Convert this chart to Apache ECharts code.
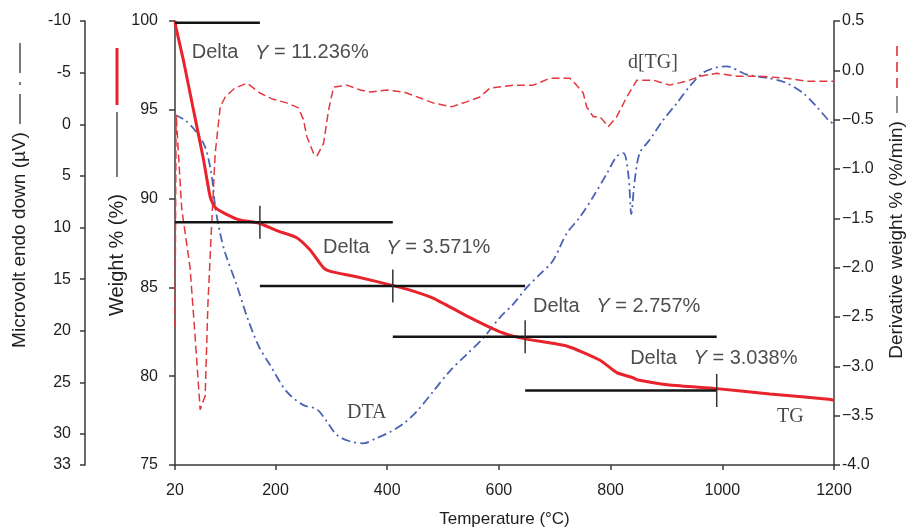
<!DOCTYPE html>
<html>
<head>
<meta charset="utf-8">
<title>TG / DTG / DTA</title>
<script src="https://cdn.jsdelivr.net/npm/echarts@6/dist/echarts.min.js"></script>
<style>
  html, body { margin: 0; padding: 0; background: #fff; }
  #chart { width: 907px; height: 529px; }
</style>
</head>
<body>
<div id="chart"></div>
<script>
// x axis
const temperatureTicks = [20, 200, 400, 600, 800, 1000, 1200];
const microvoltTicks = [-10, -5, 0, 5, 10, 15, 20, 25, 30, 33];

// TG, weight %
const tgTemp   = [20, 22, 35, 53, 71, 83, 92, 113, 136, 172, 202, 238, 262, 286, 298, 345, 411, 441, 482, 542, 602, 647, 721, 781, 811, 841, 847, 906, 990, 1085, 1190, 1200];
const tgWeight = [100, 99.6, 97.8, 95.0, 92.2, 90.1, 89.5, 89.1, 88.8, 88.6, 88.2, 87.8, 87.1, 86.1, 85.9, 85.6, 85.1, 84.85, 84.4, 83.4, 82.5, 82.1, 81.7, 80.9, 80.2, 79.9, 79.8, 79.5, 79.3, 79.0, 78.7, 78.65];

// d[TG], %/min
const dtgTemp = [20, 22, 32, 47, 56, 65, 74, 79, 86, 92, 101, 110, 127, 149, 172, 194, 220, 241, 250, 256, 268, 274, 286, 295, 304, 328, 352, 370, 400, 430, 459, 482, 515, 542, 566, 584, 626, 662, 691, 727, 739, 751, 757, 769, 781, 796, 811, 829, 847, 877, 906, 936, 960, 990, 1026, 1067, 1115, 1151, 1200];
const dtgRate = [-2.6, -0.45, -1.4, -2.0, -2.7, -3.44, -3.3, -2.36, -1.52, -0.84, -0.37, -0.27, -0.18, -0.13, -0.23, -0.29, -0.33, -0.38, -0.50, -0.67, -0.84, -0.87, -0.74, -0.40, -0.17, -0.15, -0.20, -0.22, -0.20, -0.22, -0.28, -0.33, -0.37, -0.32, -0.27, -0.18, -0.15, -0.15, -0.08, -0.08, -0.15, -0.23, -0.37, -0.47, -0.47, -0.57, -0.47, -0.27, -0.10, -0.10, -0.15, -0.11, -0.06, -0.03, -0.06, -0.06, -0.08, -0.11, -0.11];

// DTA, microvolt (endo down)
const dtaTemp   = [20, 38, 56, 74, 86, 92, 101, 110, 130, 150, 170, 190, 220, 250, 274, 292, 310, 333, 357, 381, 405, 429, 453, 482, 512, 542, 572, 602, 626, 650, 674, 697, 721, 745, 769, 793, 811, 823, 832, 837, 843, 852, 870, 894, 918, 942, 966, 990, 1008, 1044, 1080, 1115, 1145, 1169, 1190, 1200];
const dtaSignal = [-0.9, -0.4, 0.6, 2.2, 5.1, 8.0, 10.6, 12.5, 15.5, 18.8, 21.5, 23.3, 25.9, 27.2, 27.6, 28.8, 30.1, 30.7, 30.9, 30.4, 29.8, 29.0, 27.8, 25.9, 23.9, 22.3, 20.7, 18.7, 17.4, 15.8, 14.5, 13.2, 10.6, 9.0, 7.0, 4.8, 3.1, 2.8, 5.0, 8.7, 5.5, 2.8, 1.5, -0.4, -2.0, -3.7, -5.0, -5.5, -5.6, -4.8, -4.5, -4.0, -3.0, -1.7, -0.4, 0.0];

// weight-loss steps
const stepFrom  = [20, 20, 172, 410, 647];
const stepTo    = [172, 410, 647, 990, 990];
const stepLevel = [99.9, 88.67, 85.08, 82.22, 79.2];
const stepMarkAt = [172, 410, 647, 990];
const stepMarkLevel = [88.67, 85.08, 82.22, 79.2];
const deltaY = ['11.236', '3.571', '2.757', '3.038'];

const zip = (a, b) => a.map((v, i) => [v, b[i]]);

const SANS = '"Liberation Sans", Arial, sans-serif';
const SERIF = '"Liberation Serif", "Times New Roman", serif';
const AXIS_COLOR = '#3a3a3a';
const TEXT_COLOR = '#1e1e1e';

// where the annotation texts sit (left edge, vertical middle), in T / weight units
const deltaAnchor = [[50, 98.2], [285, 87.22], [661, 83.9], [835, 81.0]];
const curveNames = [
  { name: 'd[TG]', value: [831, 97.64] },
  { name: 'DTA', value: [328, 77.93] },
  { name: 'TG', value: [1098, 77.7] }
];

const chart = echarts.init(document.getElementById('chart'));

const stepLines = stepLevel.map((lvl, i) => ({
  type: 'line',
  yAxisIndex: 0,
  data: [[stepFrom[i], lvl], [stepTo[i], lvl]],
  symbol: 'none',
  silent: true,
  lineStyle: { color: '#141414', width: 2.5 },
  z: 6
}));

const stepMarks = stepMarkAt.map((t, i) => ({
  type: 'line',
  yAxisIndex: 0,
  data: [[t, stepMarkLevel[i] + 0.93], [t, stepMarkLevel[i] - 0.93]],
  symbol: 'none',
  silent: true,
  lineStyle: { color: '#333', width: 1.5 },
  z: 6
}));

const option = {
  animation: false,
  grid: { left: 175, right: 73, top: 21, bottom: 64, containLabel: false, outerBoundsMode: 'none' },
  xAxis: {
    type: 'value',
    min: 20,
    max: 1200,
    name: 'Temperature (°C)',
    nameLocation: 'middle',
    nameGap: 46,
    nameTextStyle: { fontSize: 17, fontFamily: SANS, color: TEXT_COLOR },
    axisLine: { onZero: false, lineStyle: { color: AXIS_COLOR, width: 1.5 } },
    axisTick: { customValues: temperatureTicks, length: 5, lineStyle: { color: AXIS_COLOR, width: 1.5 } },
    axisLabel: { customValues: temperatureTicks, formatter: v => String(v), fontSize: 16, fontFamily: SANS, color: TEXT_COLOR, margin: 18 },
    splitLine: { show: false }
  },
  yAxis: [
    {
      type: 'value',
      min: 75,
      max: 100,
      interval: 5,
      position: 'left',
      axisLine: { show: true, onZero: false, lineStyle: { color: AXIS_COLOR, width: 1.5 } },
      axisTick: { show: true, length: 6, lineStyle: { color: AXIS_COLOR, width: 1.5 } },
      axisLabel: { fontSize: 16, fontFamily: SANS, color: TEXT_COLOR, margin: 17 },
      splitLine: { show: false }
    },
    {
      type: 'value',
      min: -10,
      max: 33,
      inverse: true,
      position: 'left',
      offset: 90,
      axisLine: { show: true, onZero: false, lineStyle: { color: AXIS_COLOR, width: 1.5 } },
      axisTick: { show: true, customValues: microvoltTicks, length: 5, lineStyle: { color: AXIS_COLOR, width: 1.5 } },
      axisLabel: { customValues: microvoltTicks, fontSize: 16, fontFamily: SANS, color: TEXT_COLOR, margin: 14 },
      splitLine: { show: false }
    },
    {
      type: 'value',
      min: -4,
      max: 0.5,
      interval: 0.5,
      position: 'right',
      axisLine: { show: true, onZero: false, lineStyle: { color: AXIS_COLOR, width: 1.5 } },
      axisTick: { show: true, length: 6, lineStyle: { color: AXIS_COLOR, width: 1.5 } },
      axisLabel: {
        fontSize: 16, fontFamily: SANS, color: TEXT_COLOR, margin: 8,
        formatter: v => (v < 0 && v > -4 ? '\u2212' + Math.abs(v).toFixed(1) : v.toFixed(1))
      },
      splitLine: { show: false }
    }
  ],
  graphic: [
    // left outer title + dash-dot key
    {
      type: 'text', x: 20, y: 240, rotation: Math.PI / 2,
      style: { text: 'Microvolt endo down (µV)', font: '19px ' + SANS, fill: TEXT_COLOR,
               align: 'center', verticalAlign: 'middle', textAlign: 'center', textVerticalAlign: 'middle' }
    },
    {
      type: 'line', shape: { x1: 20, y1: 124, x2: 20, y2: 36 },
      style: { stroke: '#333', lineWidth: 1.3, lineDash: [30, 9, 3, 9] }
    },
    // weight title + keys
    {
      type: 'text', x: 117, y: 255, rotation: Math.PI / 2,
      style: { text: 'Weight % (%)', font: '20px ' + SANS, fill: TEXT_COLOR,
               align: 'center', verticalAlign: 'middle', textAlign: 'center', textVerticalAlign: 'middle' }
    },
    {
      type: 'line', shape: { x1: 117, y1: 177, x2: 117, y2: 112 },
      style: { stroke: '#333', lineWidth: 1.3 }
    },
    {
      type: 'line', shape: { x1: 117, y1: 105, x2: 117, y2: 48 },
      style: { stroke: '#e8232b', lineWidth: 3 }
    },
    // right title + keys
    {
      type: 'text', x: 897, y: 240, rotation: Math.PI / 2,
      style: { text: 'Derivative weight % (%/min)', font: '19px ' + SANS, fill: TEXT_COLOR,
               align: 'center', verticalAlign: 'middle', textAlign: 'center', textVerticalAlign: 'middle' }
    },
    {
      type: 'line', shape: { x1: 897, y1: 113, x2: 897, y2: 96 },
      style: { stroke: '#555', lineWidth: 1.3 }
    },
    {
      type: 'line', shape: { x1: 897, y1: 88, x2: 897, y2: 46 },
      style: { stroke: '#e05a5e', lineWidth: 2, lineDash: [10, 6] }
    }
  ],
  series: [
    {
      name: 'DTA',
      type: 'line',
      yAxisIndex: 1,
      data: zip(dtaTemp, dtaSignal),
      symbol: 'none',
      smooth: 0.3,
      lineStyle: { color: '#4b62b5', width: 1.8, type: [9, 4, 2, 4] },
      z: 2
    },
    {
      name: 'd[TG]',
      type: 'line',
      yAxisIndex: 2,
      data: zip(dtgTemp, dtgRate),
      symbol: 'none',
      lineStyle: { color: '#e2383d', width: 1.5, type: [8, 4] },
      z: 3
    },
    ...stepLines,
    ...stepMarks,
    {
      name: 'TG',
      type: 'line',
      yAxisIndex: 0,
      data: zip(tgTemp, tgWeight),
      symbol: 'none',
      smooth: 0.2,
      lineStyle: { color: '#e8232b', width: 3 },
      z: 5
    },
    {
      name: 'delta labels',
      type: 'scatter',
      yAxisIndex: 0,
      symbolSize: 0,
      silent: true,
      data: deltaY.map((d, i) => ({ name: d, value: deltaAnchor[i] })),
      label: {
        show: true,
        position: 'right',
        distance: 0,
        formatter: p => '{n|Delta   }{i|Y}{n| = ' + p.name + '%}',
        rich: {
          n: { fontSize: 20, fontFamily: SANS, color: '#222' },
          i: { fontSize: 20, fontFamily: SANS, fontStyle: 'italic', color: '#222' }
        }
      },
      z: 8
    },
    {
      name: 'curve labels',
      type: 'scatter',
      yAxisIndex: 0,
      symbolSize: 0,
      silent: true,
      data: curveNames,
      label: {
        show: true,
        position: 'right',
        distance: 0,
        formatter: p => p.name,
        fontSize: 20,
        fontFamily: SERIF,
        color: '#1a1a1a'
      },
      z: 8
    }
  ]
};

chart.setOption(option);
window.addEventListener('resize', chart.resize);
</script>
</body>
</html>
